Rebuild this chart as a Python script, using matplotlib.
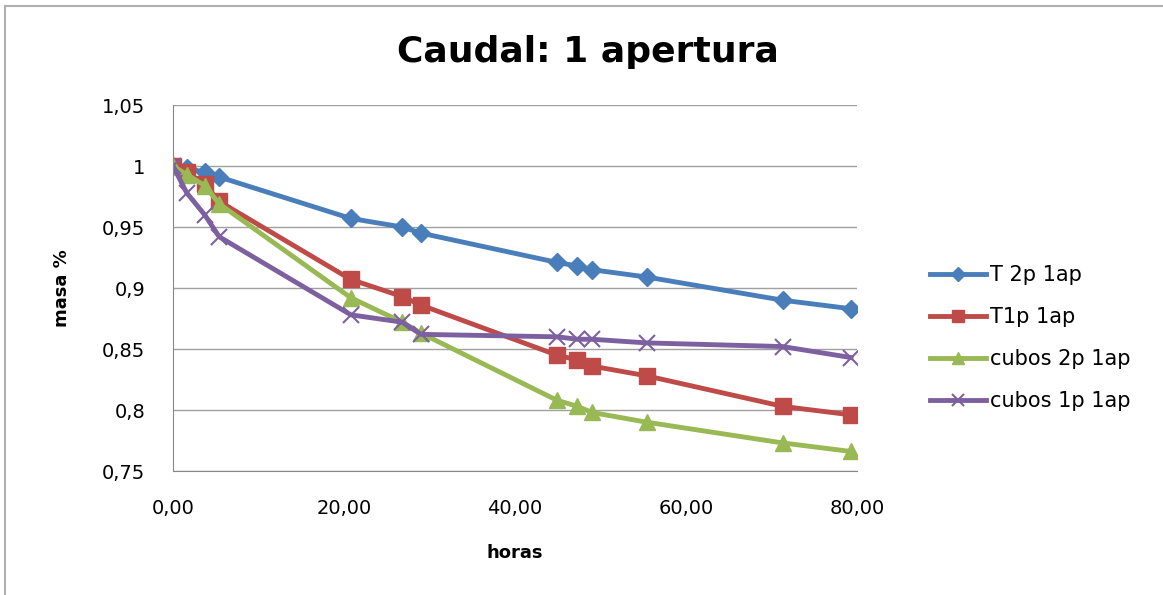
import matplotlib
matplotlib.use("Agg")
import matplotlib.pyplot as plt
from matplotlib.lines import Line2D
from matplotlib.ticker import FuncFormatter

plt.rcParams['font.family'] = ['DejaVu Sans']

horas = [0, 1.6, 3.7, 5.4, 20.8, 26.8, 29.0, 44.9, 47.3, 49.0, 55.4, 71.3, 79.3]

t2p = [1.0, 0.998, 0.995, 0.991, 0.957, 0.950, 0.945, 0.921, 0.918, 0.915, 0.909, 0.890, 0.883]
t1p = [1.0, 0.995, 0.985, 0.971, 0.907, 0.893, 0.886, 0.845, 0.841, 0.836, 0.828, 0.803, 0.796]
cubos2p = [1.0, 0.993, 0.984, 0.969, 0.892, 0.872, 0.863, 0.808, 0.803, 0.798, 0.790, 0.773, 0.766]
cubos1p = [1.0, 0.978, 0.960, 0.942, 0.878, 0.872, 0.862, 0.860, 0.858, 0.858, 0.855, 0.852, 0.843]

etiquetas = ["T 2p 1ap", "T1p 1ap", "cubos 2p 1ap", "cubos 1p 1ap"]

fig = plt.figure(figsize=(11.63, 5.95), dpi=100)
ax = fig.add_axes([0.1488, 0.2084, 0.5881, 0.6151])

ax.plot(horas, t2p, color='#4A7EBB', lw=3.5, marker='D', ms=9, label=etiquetas[0])
ax.plot(horas, t1p, color='#BE4B48', lw=3.5, marker='s', ms=11, label=etiquetas[1])
ax.plot(horas, cubos2p, color='#98B954', lw=3.5, marker='^', ms=11, label=etiquetas[2])
ax.plot(horas, cubos1p, color='#7D60A0', lw=3.5, marker='x', ms=11, mew=1.5, label=etiquetas[3])

ax.set_xlim(0, 80)
ax.set_ylim(0.75, 1.05)
ax.set_xticks([0, 20, 40, 60, 80])
ax.set_yticks([0.75, 0.8, 0.85, 0.9, 0.95, 1.0, 1.05])
ax.xaxis.set_major_formatter(FuncFormatter(lambda v, p: f"{v:.2f}".replace('.', ',')))
ax.yaxis.set_major_formatter(FuncFormatter(lambda v, p: f"{v:g}".replace('.', ',')))
ax.tick_params(axis='both', labelsize=14, length=0)
ax.tick_params(axis='x', pad=20)
ax.tick_params(axis='y', pad=20)

ax.grid(axis='y', color='#A0A0A0', lw=1)
ax.set_axisbelow(True)
for s in ['top', 'right']:
    ax.spines[s].set_visible(False)
for s in ['left', 'bottom']:
    ax.spines[s].set_color('#888888')

ax.set_xlabel("horas", fontsize=13, fontweight='bold', labelpad=19)
ax.set_ylabel("masa %", fontsize=13, fontweight='bold', labelpad=22)
fig.text(0.5056, 0.912, "Caudal: 1 apertura", fontsize=26, fontweight='bold',
         ha='center', va='center')

ax.legend(loc='center left', bbox_to_anchor=(930 / 1163, 1 - 338 / 595),
          bbox_transform=fig.transFigure, frameon=False, borderpad=0,
          borderaxespad=0, fontsize=15, handlelength=2.7, labelspacing=1.05,
          handletextpad=0.2, markerscale=0.8)

# borde del grafico (solo arriba e izquierda visibles)
fig.add_artist(Line2D([0.0047, 1.0], [0.990, 0.990], transform=fig.transFigure,
                      color='#B0B0B0', lw=1.5))
fig.add_artist(Line2D([0.0047, 0.0047], [0.0, 0.990], transform=fig.transFigure,
                      color='#B0B0B0', lw=1.5))

plt.savefig("out.png", dpi=100)
plt.close()
